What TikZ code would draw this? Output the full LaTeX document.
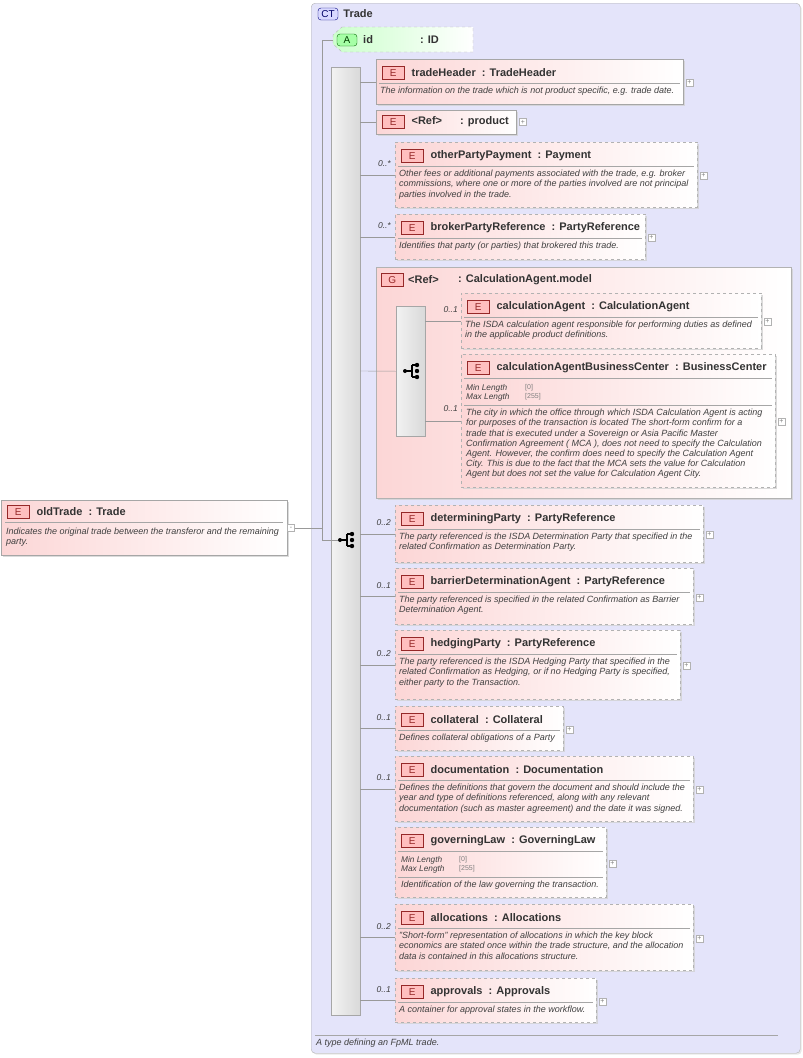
\documentclass[tikz,border=0pt]{standalone}
\usepackage{fontspec}
\setmainfont{Liberation Sans}
\usetikzlibrary{positioning,shadows,calc}
\definecolor{ctfill}{RGB}{228,228,250}
\definecolor{pinkl}{RGB}{252,214,214}
\definecolor{badgered}{RGB}{150,40,40}
\tikzset{
  box/.style={draw=gray!70,anchor=north west,inner sep=0pt,left color=pinkl,right color=white,
    drop shadow={shadow xshift=1.5pt,shadow yshift=-1.5pt,fill=gray!35,opacity=.8}},
  opt/.style={dashed,draw=gray!60},
  badge/.style={draw=badgered,fill=red!25,text=badgered,minimum width=22pt,minimum height=13pt,
    inner sep=0pt,anchor=north west,font=\fontsize{10}{10}\selectfont},
  title/.style={font=\bfseries\fontsize{11}{12}\selectfont,text=black!80,inner sep=0pt,anchor=west},
  desc/.style={font=\itshape\fontsize{9}{10.2}\selectfont,text=black!75,inner sep=0pt,align=left,anchor=north west},
  facet/.style={font=\itshape\fontsize{8.3}{9.5}\selectfont,text=black!75,inner sep=0pt,align=left,anchor=north west},
  fval/.style={font=\fontsize{7}{9.5}\selectfont,text=gray,inner sep=0pt,align=left,anchor=north west},
  sep/.style={draw=gray!70},
  plus/.style={draw=gray!60,fill=white,minimum size=7pt,inner sep=0pt,text=gray,font=\fontsize{7}{7}\selectfont},
  card/.style={font=\itshape\fontsize{8.5}{8.5}\selectfont,text=black!75,inner sep=0pt,anchor=east},
  conn/.style={draw=gray!80},
  seqbar/.style={draw=gray!70,anchor=north west,left color=gray!10,right color=gray!30,inner sep=0pt,
    drop shadow={shadow xshift=1pt,shadow yshift=-1pt,fill=gray!35}},
  seqicon/.pic={
    \fill (-7,0) circle (2pt);
    \draw[line width=1.2pt] (-7,0) -- (0,0) (0,-6) -- (0,6) (0,-6) -- (5,-6) (0,6) -- (5,6);
    \fill (5,-6) circle (2.2pt) (5,0) circle (2.2pt) (5,6) circle (2.2pt);}
}
% element box: name, x, y, w, h, style, title, description
\newcommand\elbox[8]{%
  \node[box,#6,minimum width=#4,minimum height=#5] (#1) at (#2,#3) {};
  \node[badge] (#1-b) at ([xshift=6pt,yshift=-7pt]#1.north west) {E};
  \node[title,right=7pt of #1-b] {#7};
  \draw[sep] ([xshift=3pt,yshift=-24pt]#1.north west) -- ([xshift=-3pt,yshift=-24pt]#1.north east);
  \node[desc] at ([xshift=4pt,yshift=-28pt]#1.north west) {#8};
  \node[plus] at ([xshift=6pt,yshift=-1pt]#1.east) {+};
}
\begin{document}
\begin{tikzpicture}[x=1pt,y=-1pt]
\useasboundingbox (0,0) rectangle (803,1058);

% complex type frame
\node[draw=gray!60,fill=ctfill,rounded corners=4pt,anchor=north west,minimum width=489pt,minimum height=1050pt,
  drop shadow={shadow xshift=1.5pt,shadow yshift=-1.5pt,fill=gray!35}] (ct) at (311,3) {};
\node[draw=blue!50!black,fill=blue!15,rounded corners=3pt,minimum width=20pt,minimum height=12pt,inner sep=0pt,
  font=\fontsize{10}{10}\selectfont,text=blue!40!black] (ct-b) at (328,14) {CT};
\node[title,right=5pt of ct-b] {Trade};
\draw[sep] (315,1035) -- (778,1035);
\node[desc,anchor=west] at (316,1043) {A type defining an FpML trade.};

% attribute
\draw[dashed,draw=gray!60,left color=green!20,right color=white] (342,27) -- (473,27) -- (473,52) -- (342,52) -- (333,44) -- (333,35) -- cycle;
\node[draw=green!40!black,fill=green!35,rounded corners=3pt,minimum width=20pt,minimum height=12pt,inner sep=0pt,
  font=\fontsize{10}{10}\selectfont,text=green!25!black] (id-b) at (347,40) {A};
\node[title] at (363,40) {id};
\node[title] at (420,40) {: ID};
\coordinate (id) at (333,40);

% old trade
\node[box,minimum width=286pt,minimum height=55pt] (old) at (1,500) {};
\node[badge] (old-b) at ([xshift=6pt,yshift=-5pt]old.north west) {E};
\node[title,right=7pt of old-b] {oldTrade\ \ : Trade};
\draw[sep] (5,522) -- (283,522);
\node[desc] at (6,528) {Indicates the original trade between the transferor and the remaining\\party.};
\node[plus] (oldm) at (291,528) {-};

% main sequence
\node[seqbar,minimum width=29pt,minimum height=948pt] (seq) at (331,67) {};
\pic at (347,540) {seqicon};
\coordinate (j) at (322,528);
\draw[conn] (oldm) -- (j);
\draw[conn] (322,40) -- (322,540) -- (338,540);
\draw[conn] (322,40) -- (id);

% children
\elbox{th}{376}{59}{307}{45}{}{tradeHeader\ \ : TradeHeader}{The information on the trade which is not product specific, e.g. trade date.}
\node[box,minimum width=140pt,minimum height=24pt] (pr) at (376,110) {};
\node[badge] (pr-b) at ([xshift=6pt,yshift=-5pt]pr.north west) {E};
\node[title,right=7pt of pr-b] {<Ref>\hspace{18pt}: product};
\node[plus] at (523,122) {+};
\elbox{opp}{395}{142}{302}{65}{opt}{otherPartyPayment\ \ : Payment}{Other fees or additional payments associated with the trade, e.g. broker\\commissions, where one or more of the parties involved are not principal\\parties involved in the trade.}
\elbox{bpr}{395}{214}{250}{45}{opt}{brokerPartyReference\ \ : PartyReference}{Identifies that party (or parties) that brokered this trade.}

% calculation agent group
\node[box,draw=gray!60,minimum width=415pt,minimum height=231pt] (grp) at (376,267) {};
\node[badge] (grp-b) at (381,273) {G};
\node[title] at (408,280) {<Ref>};
\node[title] at (458,280) {: CalculationAgent.model};
\node[seqbar,minimum width=29pt,minimum height=130pt] (gseq) at (396,306) {};
\pic at (412,371) {seqicon};
\elbox{ca}{461}{293}{300}{55}{opt}{calculationAgent\ \ : CalculationAgent}{The ISDA calculation agent responsible for performing duties as defined\\in the applicable product definitions.}
\elbox{cabc}{461}{354}{314}{133}{opt}{calculationAgentBusinessCenter\ \ : BusinessCenter}{}
\node[facet] at (466,384) {Min Length\\Max Length};
\node[fval] at (525,384) {[0]\\{}[255]};
\draw[sep] (464,405) -- (772,405);
\node[desc] at (466,409) {The city in which the office through which ISDA Calculation Agent is acting\\for purposes of the transaction is located The short-form confirm for a\\trade that is executed under a Sovereign or Asia Pacific Master\\Confirmation Agreement ( MCA ), does not need to specify the Calculation\\Agent. However, the confirm does need to specify the Calculation Agent\\City. This is due to the fact that the MCA sets the value for Calculation\\Agent but does not set the value for Calculation Agent City.};
\draw[conn] (gseq.east |- ca.west) -- (ca.west);
\draw[conn] (gseq.east |- 0,421) -- (461,421);
\node[card] at (458,310) {0..1};
\node[card] at (458,409) {0..1};

\elbox{dp}{395}{505}{308}{57}{opt}{determiningParty\ \ : PartyReference}{The party referenced is the ISDA Determination Party that specified in the\\related Confirmation as Determination Party.}
\elbox{bda}{395}{568}{298}{56}{opt}{barrierDeterminationAgent\ \ : PartyReference}{The party referenced is specified in the related Confirmation as Barrier\\Determination Agent.}
\elbox{hp}{395}{630}{285}{69}{opt}{hedgingParty\ \ : PartyReference}{The party referenced is the ISDA Hedging Party that specified in the\\related Confirmation as Hedging, or if no Hedging Party is specified,\\either party to the Transaction.}
\elbox{col}{395}{706}{168}{44}{opt}{collateral\ \ : Collateral}{Defines collateral obligations of a Party}
\elbox{doc}{395}{756}{298}{65}{opt}{documentation\ \ : Documentation}{Defines the definitions that govern the document and should include the\\year and type of definitions referenced, along with any relevant\\documentation (such as master agreement) and the date it was signed.}
\elbox{gl}{395}{827}{211}{70}{opt}{governingLaw\ \ : GoverningLaw}{}
\node[facet] at (401,856) {Min Length\\Max Length};
\node[fval] at (459,856) {[0]\\{}[255]};
\draw[sep] (398,877) -- (603,877);
\node[desc] at (401,881) {Identification of the law governing the transaction.};
\elbox{al}{395}{904}{298}{66}{opt}{allocations\ \ : Allocations}{"Short-form" representation of allocations in which the key block\\economics are stated once within the trade structure, and the allocation\\data is contained in this allocations structure.}
\elbox{ap}{395}{978}{201}{44}{opt}{approvals\ \ : Approvals}{A container for approval states in the workflow.}

% connectors and cardinalities
\foreach \n in {th,pr,opp,bpr,dp,bda,hp,col,doc,al,ap}
  \draw[conn] (seq.east |- \n.west) -- (\n.west);
\draw[conn] (seq.east |- 0,371) -- (gseq.west);
\foreach \n/\c in {opp/0..*,bpr/0..*,dp/0..2,bda/0..1,hp/0..2,col/0..1,doc/0..1,al/0..2,ap/0..1}
  \node[card] at ([xshift=-4pt,yshift=11pt]\n.west) {\c};
\end{tikzpicture}
\end{document}
